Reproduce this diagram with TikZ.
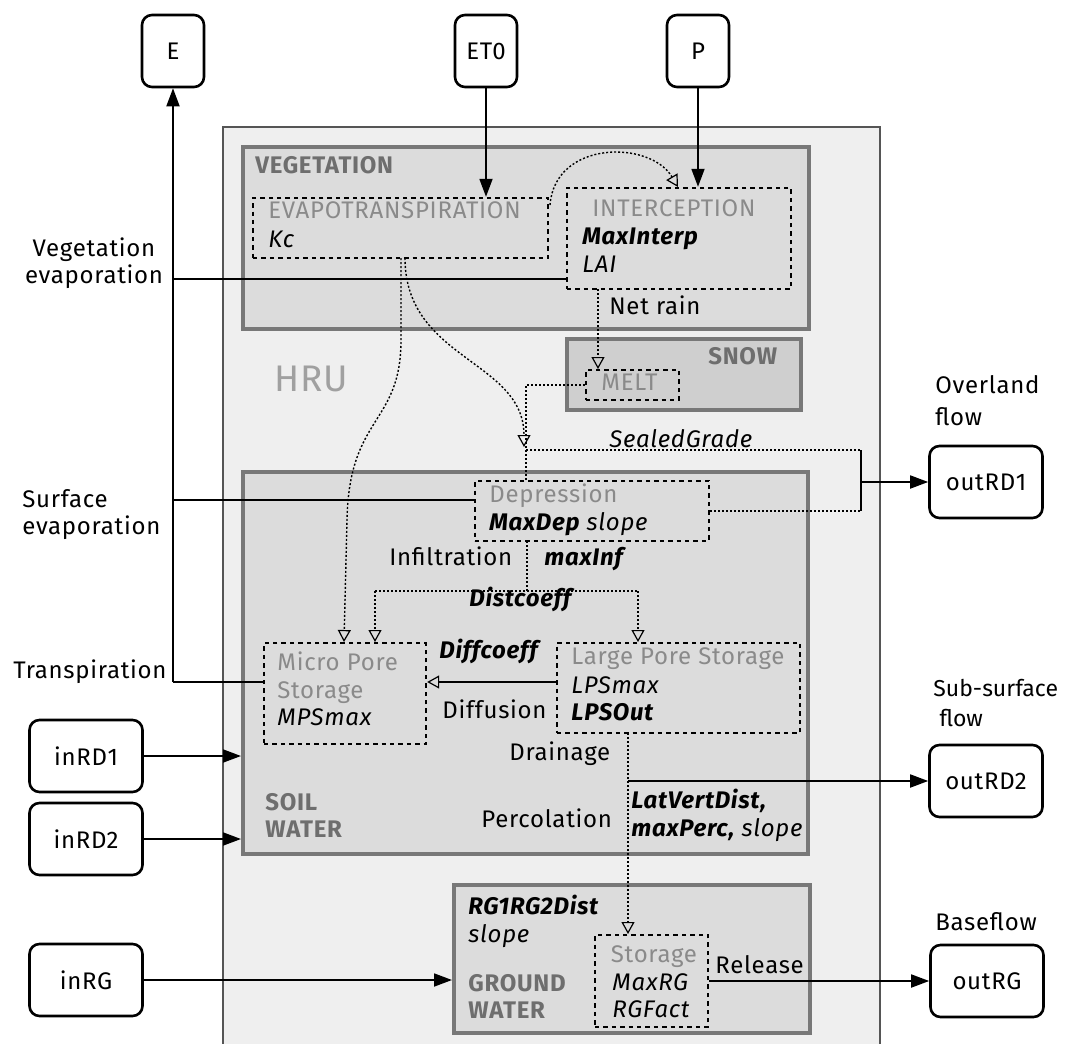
\documentclass[tikz,border=0pt]{standalone}
\usepackage{fontspec}
\setmainfont{Fira Sans}[LetterSpace=3]
\usetikzlibrary{arrows.meta,fit}
\definecolor{hrufill}{HTML}{EFEFEF}
\definecolor{hruline}{HTML}{555555}
\definecolor{boxfill}{HTML}{DCDCDC}
\definecolor{snowfill}{HTML}{CFCFCF}
\definecolor{boxline}{HTML}{787878}
\definecolor{graytext}{HTML}{8A8A8A}
\definecolor{labeltext}{HTML}{6E6E6E}
\definecolor{hrutext}{HTML}{A0A0A0}
\begin{document}
\begin{tikzpicture}[x=0.5pt,y=-0.5pt,
  font=\fontsize{12}{13.5}\selectfont,
  ext/.style={draw=black, line width=1.3pt, rounded corners=5pt, fill=white,
    minimum width=31pt, minimum height=36pt, inner sep=0},
  extw/.style={ext, minimum width=56.5pt},
  hrubox/.style={draw=hruline, line width=0.9pt, fill=hrufill, inner sep=0},
  bigbox/.style={draw=boxline, line width=2pt, fill=boxfill, inner sep=0},
  snowbox/.style={draw=boxline, line width=2pt, fill=snowfill, inner sep=0},
  dbox/.style={draw=black, line width=1.2pt, dash pattern=on 2.2pt off 2pt, inner sep=0},
  txt/.style={inner sep=0, anchor=mid west},
  gtxt/.style={txt, text=graytext},
  ltxt/.style={txt, text=labeltext, font=\fontsize{12}{13.5}\selectfont\bfseries},
  conn/.style={line width=0.9pt},
  arr/.style={conn, -{Triangle[length=9pt,width=6.5pt]}},
  dotl/.style={line width=0.7pt, dash pattern=on 1pt off 1pt},
  dotarr/.style={dotl, -{Triangle[open,length=6pt,width=6.5pt,line width=0.6pt]}},
  oarr/.style={conn, -{Triangle[open,length=6pt,width=6.5pt,line width=0.6pt]}}
]
\useasboundingbox (0,0) rectangle (1067,1044);
\clip (0,0) rectangle (1067,1044);
\fill[white] (0,0) rectangle (1067,1044);

% HRU outer box
\node[hrubox, fit={(223,127)(880,1070)}] (hru) {};
\node[inner sep=0, anchor=mid west, text=hrutext, font=\fontsize{18.5}{20}\selectfont] (hrulbl) at (274,386) {HRU};

% external boxes
\node[ext] (e) at (173,51) {E};
\node[ext] (et0) at (486,51) {ET0};
\node[ext] (p) at (698,51) {P};
\node[extw] (inrd1) at (86,756) {inRD1};
\node[extw] (inrd2) at (86,839) {inRD2};
\node[extw] (inrg) at (86,980) {inRG};
\node[extw] (outrd1) at (986,482) {outRD1};
\node[extw] (outrd2) at (986,781) {outRD2};
\node[extw] (outrg) at (987,981) {outRG};

% compartment boxes
\node[bigbox, fit={(243,147)(809,329)}] (veg) {};
\node[snowbox, fit={(567,339)(801,410)}] (snow) {};
\node[bigbox, fit={(243,472)(808,854)}] (soil) {};
\node[bigbox, fit={(454,885)(810,1033)}] (ground) {};

% dotted process boxes
\node[dbox, fit={(253,198)(548,258)}] (evapo) {};
\node[dbox, fit={(567,188)(791,289)}] (inter) {};
\node[dbox, fit={(586,370)(679,400)}] (melt) {};
\node[dbox, fit={(475,481)(709,541)}] (depr) {};
\node[dbox, fit={(264,643)(426,744)}] (micro) {};
\node[dbox, fit={(557,643)(800,733)}] (lps) {};
\node[dbox, fit={(595,935)(708,1027)}] (stor) {};

% texts in boxes
\node[ltxt] (tveg) at (255,168) {VEGETATION};
\node[gtxt] (tevapo) at (268,213) {EVAPOTRANSPIRATION};
\node[txt] (tkc) at (268,242) {\itshape Kc};
\node[gtxt] (tinter) at (592,211) {INTERCEPTION};
\node[txt] (tmaxi) at (582,239) {\bfseries\itshape MaxInterp};
\node[txt] (tlai) at (582,267) {\itshape LAI};
\node[txt] (tnet) at (609,309) {Net rain};
\node[ltxt] (tsnow) at (708,359) {SNOW};
\node[gtxt] (tmelt) at (601,385) {MELT};
\node[txt] (tsealed) at (609,442) {\itshape SealedGrade};
\node[gtxt] (tdepr) at (489,497) {Depression};
\node[txt] (tmaxdep) at (489,525) {{\bfseries\itshape MaxDep} {\itshape slope}};
\node[txt] (tinf) at (389,560) {Infiltration};
\node[txt] (tmaxinf) at (544,560) {\bfseries\itshape maxInf};
\node[txt] (tdist) at (469,601) {\bfseries\itshape Distcoeff};
\node[gtxt] (tmicro1) at (277,665) {Micro Pore};
\node[gtxt] (tmicro2) at (277,693) {Storage};
\node[txt] (tmps) at (277,720) {\itshape MPSmax};
\node[txt] (tdiffc) at (439,653) {\bfseries\itshape Diffcoeff};
\node[txt] (tdiff) at (442,713) {Diffusion};
\node[gtxt] (tlps) at (571,659) {Large Pore Storage};
\node[txt] (tlpsmax) at (571,688) {\itshape LPSmax};
\node[txt] (tlpsout) at (571,715) {\bfseries\itshape LPSOut};
\node[txt] (tdrain) at (509,755) {Drainage};
\node[ltxt] (tsoil1) at (265,805) {SOIL};
\node[ltxt] (tsoil2) at (265,832) {WATER};
\node[txt] (tperc) at (481,822) {Percolation};
\node[txt] (tlat) at (631,803) {\bfseries\itshape LatVertDist,};
\node[txt] (tmaxp) at (631,831) {{\bfseries\itshape maxPerc,} {\itshape slope}};
\node[txt] (trg) at (468,909) {\bfseries\itshape RG1RG2Dist};
\node[txt] (tslope) at (468,937) {\itshape slope};
\node[ltxt] (tgr1) at (468,986) {GROUND};
\node[ltxt] (tgr2) at (468,1013) {WATER};
\node[inner sep=0, text=graytext] (tstor) at (654,957) {Storage};
\node[txt] (tmaxrg) at (612,985) {\itshape MaxRG};
\node[txt] (trgf) at (612,1012) {\itshape RGFact};
\node[txt] (trel) at (715,968) {Release};

% outside labels
\node[inner sep=0, align=center] (lveg) at (94,263) {Vegetation\\evaporation};
\node[inner sep=0, anchor=west, align=left] (lsurf) at (22,515) {Surface\\evaporation};
\node[txt] (ltransp) at (13,673) {Transpiration};
\node[inner sep=0, anchor=west, align=left, font=\fontsize{12}{16}\selectfont] (lover) at (935,401) {Overland\\flow};
\node[inner sep=0, anchor=west, align=left, font=\fontsize{11.5}{15}\selectfont\addfontfeature{LetterSpace=0}] (lsub) at (933,703) {Sub-surface\\\ flow};
\node[txt] (lbase) at (935,925) {Baseflow};

% solid connectors
\draw[arr] (et0) -- (et0 |- evapo.north);
\draw[arr] (p) -- (p |- inter.north);
\draw[conn] (inter.west |- 0,279) -- (e.south |- 0,279);
\draw[conn] (depr.west |- 0,500) -- (e.south |- 0,500);
\draw[conn] (micro.west |- 0,682) -- (e.south |- 0,682);
\draw[arr] (e.south |- 0,682) -- (e.south);
\draw[arr] (inrd1.east) -- (inrd1.east -| soil.west);
\draw[arr] (inrd2.east) -- (inrd2.east -| soil.west);
\draw[arr] (inrg.east) -- (inrg.east -| ground.west);
\draw[oarr] (lps.west |- 0,682) -- (micro.east |- 0,682);
\coordinate (bracktop) at (861,450);
\coordinate (brackbot) at (861,511);
\draw[conn] (bracktop) -- (brackbot);
\draw[arr] (861,482) -- (outrd1.west);
\draw[arr] (628,0 |- outrd2.west) -- (outrd2.west);
\draw[arr] (stor.east) -- (outrg.west);

% dotted connectors
\draw[dotarr] (550,205) .. controls (555,140) and (650,140) .. (678,187);
\draw[dotarr] (598,289) -- (598,369);
\draw[dotarr] (401,258) -- (401,340) .. controls (401,425) and (349,415) .. (347,520) -- (344,642);
\draw[dotarr] (405,258) .. controls (405,360) and (524,360) .. (524,447);
\draw[dotl] (melt.west) -| (526,481);
\draw[dotl] (526,450) -- (bracktop);
\draw[dotl] (depr.east |- brackbot) -- (brackbot);
\draw[dotl] (527,541) -- (527,591);
\draw[dotl] (375,591) -- (638,591);
\draw[dotarr] (375,591) -- (375,642);
\draw[dotarr] (638,591) -- (638,642);
\draw[dotarr] (628,733) -- (628,934);
\end{tikzpicture}
\end{document}
